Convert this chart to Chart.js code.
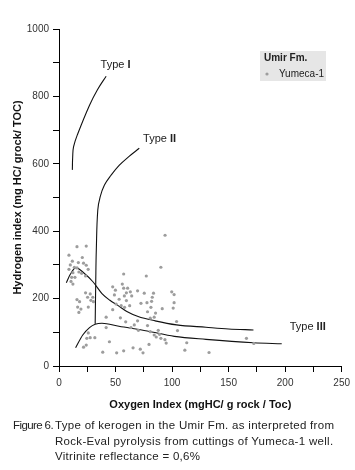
<!DOCTYPE html>
<html>
<head>
<meta charset="utf-8">
<script src="https://cdn.jsdelivr.net/npm/chart.js@4.4.1/dist/chart.umd.min.js"></script>
<style>
  body { margin: 0; background: #fff; }
  #wrap { position: relative; width: 355px; height: 470px; }
  #caption { position: absolute; left: 0; top: 418px; width: 355px;
    font: 11.5px "Liberation Sans", Arial, sans-serif; color: #222; line-height: 15.5px; }
  #caption .fig { position: absolute; left: 13px; top: 0; white-space: nowrap; letter-spacing: -0.6px; }
  #caption .txt { position: absolute; left: 55px; top: 0; white-space: nowrap; letter-spacing: 0.3px; }
</style>
</head>
<body>
<div id="wrap">
  <canvas id="chart" width="355" height="470"></canvas>
  <div id="caption">
    <div class="fig">Figure 6.</div>
    <div class="txt">Type of kerogen in the Umir Fm. as interpreted from<br>Rock-Eval pyrolysis from cuttings of Yumeca-1 well.<br>Vitrinite reflectance = 0,6%</div>
  </div>
</div>
<script>
// Yumeca-1 samples: oxygen index / hydrogen index
const sampleOI = [15.9, 24.1, 8.8, 20.6, 11.8, 17.1, 21.7, 10, 24.1, 13.6, 15.9, 8.8, 25.8, 12.3, 17.6, 20,
  23.5, 11.2, 14.1, 10.6, 12.3, 23.5, 27.6, 29.9, 25.3, 47.5, 49.9, 49, 15.9, 18.2, 28.2, 30.5,
  16.5, 19.4, 17.6, 25.9, 41.7, 47.5, 50.5, 41.7, 25.9, 27.6, 31.7, 24.6, 44.6, 24.1, 21.7, 38.7,
  51, 90.1, 77.2, 57.2, 56, 57.2, 60.7, 63.1, 59.6, 69.5, 75.4, 83.6, 99.7, 101.8, 53.2, 57.8,
  59.6, 64.3, 81.9, 77.8, 72.5, 55, 58, 62.5, 101.8, 101, 91.3, 81.3, 82.5, 78.3, 85.4, 54.3,
  59, 69.5, 66.6, 63.7, 78.3, 80.7, 84.2, 70.2, 80.7, 84.2, 86, 88.9, 90.1, 93.7, 87.8, 94.8,
  79.6, 65.5, 71.9, 57.2, 74.3, 104, 104.8, 113, 111.3, 132.7, 165.8, 172.3, 93.8];
const sampleHI = [354, 356, 329, 322, 311, 307, 305, 300, 299, 293, 291, 287, 287, 277, 279, 275,
  267, 263, 263, 251, 243, 217, 214, 204, 204, 235, 225, 211, 197, 191, 195, 191,
  175, 169, 159, 175, 145, 167, 184, 114, 98, 84, 84, 82, 72, 62, 56, 41,
  39, 293, 267, 273, 243, 231, 231, 220, 217, 223, 216, 216, 220, 212, 198, 208,
  194, 208, 192, 188, 186, 179, 174, 179, 188, 172, 170, 174, 204, 161, 157, 143,
  131, 134, 122, 114, 120, 142, 145, 106, 102, 92, 86, 94, 82, 78, 106, 68,
  64, 54, 50, 45, 39, 132, 105, 69, 47, 40, 82, 67, 388];

// kerogen evolution paths
const typeIOI = [11.8, 12.1, 12.9, 16.7, 27, 34, 41.7];
const typeIHI = [582, 620, 651, 690, 774, 820, 860];
const typeIIOI = [32, 32.5, 33, 34.3, 36.4, 40.2, 46, 53.4, 62, 71];
const typeIIHI = [125, 250, 344, 463, 502, 537, 566, 596, 622, 646];
const typeIIIupOI = [6.5, 10, 15, 22, 30, 38, 45, 52, 60, 70, 85, 104, 130, 150, 172];
const typeIIIupHI = [247, 272, 292, 276, 250, 215, 195, 180, 162, 147, 134, 122, 115, 110, 107];
const typeIIIloOI = [14.7, 21, 27, 32, 38, 53, 78, 102, 130, 172, 197];
const typeIIIloHI = [54, 92, 114, 124, 127, 118, 104, 88, 79, 69, 66];

const typeNames = ['Type ', 'Type ', 'Type '];
const typeNumerals = ['I', 'II', 'III'];
const typeLabelOI = [50, 89, 220];
const typeLabelHI = [893, 675, 117];

const pts = (xs, ys) => xs.map((x, i) => ({ x, y: ys[i] }));

function curve(label, xs, ys, mono) {
  return {
    label, data: pts(xs, ys), showLine: true, pointRadius: 0,
    borderColor: '#111', borderWidth: 1.1, fill: false,
    tension: 0.4, cubicInterpolationMode: mono ? 'monotone' : 'default'
  };
}

const labelsPlugin = {
  id: 'labels',
  afterDraw(chart) {
    const { ctx, scales: { x, y } } = chart;
    ctx.save();
    ctx.textBaseline = 'middle';
    ctx.fillStyle = '#222';
    typeNames.forEach((name, i) => {
      ctx.font = '11px "Liberation Sans", Arial, sans-serif';
      const w1 = ctx.measureText(name).width;
      ctx.font = 'bold 11px "Liberation Sans", Arial, sans-serif';
      const w2 = ctx.measureText(typeNumerals[i]).width;
      const left = x.getPixelForValue(typeLabelOI[i]) - (w1 + w2) / 2;
      const py = y.getPixelForValue(typeLabelHI[i]);
      ctx.textAlign = 'left';
      ctx.font = '11px "Liberation Sans", Arial, sans-serif';
      ctx.fillText(name, left, py);
      ctx.font = 'bold 11px "Liberation Sans", Arial, sans-serif';
      ctx.fillText(typeNumerals[i], left + w1, py);
    });

    // legend box
    ctx.fillStyle = '#e6e6e6';
    ctx.fillRect(260, 51, 66, 30);
    ctx.fillStyle = '#222';
    ctx.font = 'bold 10px "Liberation Sans", Arial, sans-serif';
    ctx.fillText('Umir Fm.', 264, 58.5);
    ctx.font = '10px "Liberation Sans", Arial, sans-serif';
    ctx.fillText('Yumeca-1', 279, 74);
    ctx.fillStyle = '#9d9d9d';
    ctx.beginPath();
    ctx.arc(267, 74, 1.6, 0, Math.PI * 2);
    ctx.fill();
    ctx.restore();
  }
};

const ctx = document.getElementById('chart').getContext('2d');
new Chart(ctx, {
  type: 'scatter',
  data: {
    datasets: [
      { label: 'Yumeca-1', data: pts(sampleOI, sampleHI), pointRadius: 1.6,
        backgroundColor: '#9d9d9d', borderWidth: 0 },
      curve('Type I', typeIOI, typeIHI, false),
      curve('Type II', typeIIOI, typeIIHI, false),
      curve('Type III a', typeIIIupOI, typeIIIupHI, true),
      curve('Type III b', typeIIIloOI, typeIIIloHI, true)
    ]
  },
  options: {
    responsive: false,
    animation: false,
    layout: { padding: { left: 0, right: 12, top: 29, bottom: 54 } },
    plugins: { legend: { display: false }, tooltip: { enabled: false } },
    scales: {
      x: {
        type: 'linear', min: 0, max: 250,
        afterFit: s => { s.height = 50; },
        border: { display: true, color: '#000', width: 1 },
        grid: { drawOnChartArea: false, drawTicks: true, tickLength: 6, color: '#000' },
        ticks: { stepSize: 25, padding: 5, maxRotation: 0, autoSkip: false, color: '#333',
          font: { family: '"Liberation Sans", Arial, sans-serif', size: 10 },
          callback: v => v % 50 === 0 ? v : '' },
        title: { display: true, text: 'Oxygen Index (mgHC/ g rock / Toc)', color: '#111',
          padding: { top: 0, bottom: 4 },
          font: { family: '"Liberation Sans", Arial, sans-serif', size: 11, weight: 'bold' } }
      },
      y: {
        type: 'linear', min: 0, max: 1000,
        afterFit: s => { s.width = 59; },
        border: { display: true, color: '#000', width: 1 },
        grid: { drawOnChartArea: false, drawTicks: true, tickLength: 6, color: '#000' },
        ticks: { stepSize: 100, padding: 4, autoSkip: false, color: '#333',
          font: { family: '"Liberation Sans", Arial, sans-serif', size: 10 },
          callback: v => v % 200 === 0 ? v : '' },
        title: { display: true, text: 'Hydrogen index (mg HC/ grock/ TOC)', color: '#111',
          padding: { top: 11, bottom: 0 },
          font: { family: '"Liberation Sans", Arial, sans-serif', size: 11, weight: 'bold' } }
      }
    }
  },
  plugins: [labelsPlugin]
});
</script>
</body>
</html>
